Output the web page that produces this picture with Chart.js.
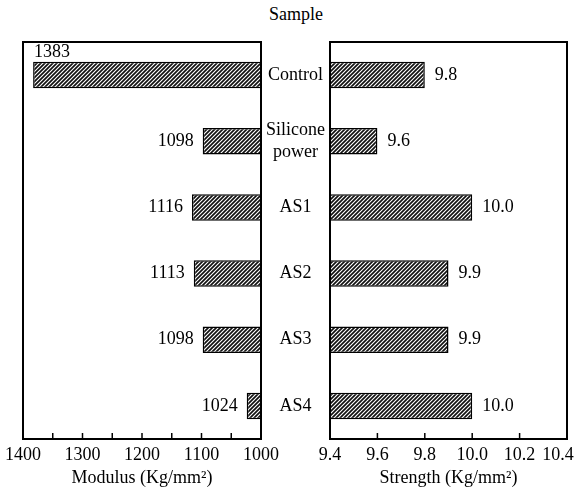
<!DOCTYPE html>
<html>
<head>
<meta charset="utf-8">
<script src="https://cdn.jsdelivr.net/npm/chart.js@4.4.1/dist/chart.umd.min.js"></script>
<style>
html, body { margin: 0; padding: 0; background: #fff; }
#wrap { position: relative; width: 576px; height: 492px; overflow: hidden; }
#left { position: absolute; left: 0; top: 0; }
#right { position: absolute; left: 262px; top: 0; }
#title { position: absolute; left: 246px; width: 100px; top: 4px; text-align: center;
  font: 18px "Liberation Serif"; color: #000; white-space: nowrap; }
</style>
</head>
<body>
<div id="wrap">
  <div id="title">Sample</div>
  <canvas id="left" width="292" height="492"></canvas>
  <canvas id="right" width="314" height="492"></canvas>
</div>
<script>
// data
const samples = ['Control', ['Silicone', 'power'], 'AS1', 'AS2', 'AS3', 'AS4'];
const modulus = [1383, 1098, 1116, 1113, 1098, 1024];
const strength = [9.8, 9.6, 10.0, 9.9, 9.9, 10.0];

const serif = { family: '"Liberation Serif", "DejaVu Serif", serif', size: 18 };
const ink = '#000';

function hatch() {
  const c = document.createElement('canvas');
  c.width = 4; c.height = 4;
  const g = c.getContext('2d');
  g.fillStyle = '#fff';
  g.fillRect(0, 0, 4, 4);
  g.strokeStyle = '#111';
  g.lineWidth = 1.7;
  g.beginPath();
  g.moveTo(0, 4); g.lineTo(4, 0);
  g.moveTo(-1, 1); g.lineTo(1, -1);
  g.moveTo(3, 5); g.lineTo(5, 3);
  g.stroke();
  return g.createPattern(c, 'repeat');
}

// box round the plot and short inward ticks
const frame = {
  id: 'frame',
  afterDraw(chart) {
    const { ctx, chartArea: a } = chart;
    const sx = chart.scales.x;
    ctx.save();
    ctx.strokeStyle = ink;
    ctx.lineWidth = 2;
    ctx.strokeRect(a.left, a.top, a.right - a.left, a.bottom - a.top);
    ctx.lineWidth = 1.5;
    sx.ticks.forEach(t => {
      const p = sx.getPixelForValue(t.value);
      if (p <= a.left + 2 || p >= a.right - 2) return;
      ctx.beginPath();
      ctx.moveTo(p, a.bottom);
      ctx.lineTo(p, a.bottom - 6);
      ctx.stroke();
    });
    ctx.restore();
  }
};

const valueLabels = {
  id: 'valueLabels',
  afterDatasetsDraw(chart, args, opts) {
    const ctx = chart.ctx;
    const vals = chart.data.datasets[0].data;
    ctx.save();
    ctx.font = '18px "Liberation Serif"';
    ctx.fillStyle = ink;
    ctx.textBaseline = 'middle';
    chart.getDatasetMeta(0).data.forEach((bar, i) => {
      const txt = opts.fmt(vals[i]);
      if (opts.side === 'left') {
        if (i === opts.above) {
          ctx.textAlign = 'left';
          ctx.fillText(txt, bar.x + 1, bar.y - bar.height / 2 - 10);
        } else {
          ctx.textAlign = 'right';
          ctx.fillText(txt, bar.x - 9, bar.y);
        }
      } else {
        ctx.textAlign = 'left';
        ctx.fillText(txt, bar.x + 10, bar.y);
      }
    });
    ctx.restore();
  }
};

Chart.defaults.font = serif;
Chart.defaults.color = ink;

const barStyle = {
  backgroundColor: hatch(),
  borderColor: ink,
  borderWidth: 1.5,
  borderSkipped: false,
  categoryPercentage: 1,
  barPercentage: 0.4
};

new Chart(document.getElementById('left'), {
  type: 'bar',
  data: { labels: samples, datasets: [Object.assign({ data: modulus }, barStyle)] },
  options: {
    indexAxis: 'y',
    responsive: false,
    animation: false,
    layout: { padding: { left: 23, right: 31, top: 42, bottom: 0 } },
    plugins: {
      legend: { display: false },
      tooltip: { enabled: false },
      valueLabels: { side: 'left', above: 0, fmt: v => String(v) }
    },
    scales: {
      x: {
        min: 1000, max: 1400, reverse: true,
        ticks: { stepSize: 50, autoSkip: false, maxRotation: 0, padding: 5,
          callback: v => (v % 100 === 0 ? v : '') },
        grid: { display: false, drawTicks: false },
        border: { display: false },
        title: { display: true, text: 'Modulus (Kg/mm²)', padding: { top: 0, bottom: 3 } },
        afterFit(s) { s.height = 53; s.paddingLeft = 0; s.paddingRight = 0; }
      },
      y: { display: false }
    }
  },
  plugins: [frame, valueLabels]
});

new Chart(document.getElementById('right'), {
  type: 'bar',
  data: { labels: samples, datasets: [Object.assign({ data: strength }, barStyle)] },
  options: {
    indexAxis: 'y',
    responsive: false,
    animation: false,
    layout: { padding: { left: 0, right: 9, top: 42, bottom: 0 } },
    plugins: {
      legend: { display: false },
      tooltip: { enabled: false },
      valueLabels: { side: 'right', fmt: v => v.toFixed(1) }
    },
    scales: {
      x: {
        min: 9.4, max: 10.4,
        ticks: { stepSize: 0.2, autoSkip: false, maxRotation: 0, padding: 5,
          // last label pushed a little left so it stays inside the window
          callback: (v, i, arr) => (i === arr.length - 1 ? v.toFixed(1) + '    ' : v.toFixed(1)) },
        grid: { display: false, drawTicks: false },
        border: { display: false },
        title: { display: true, text: 'Strength (Kg/mm²)', padding: { top: 0, bottom: 3 } },
        afterFit(s) { s.height = 53; s.paddingLeft = 0; s.paddingRight = 0; }
      },
      y: {
        position: 'left',
        ticks: { crossAlign: 'center', padding: 5 },
        grid: { display: false, drawTicks: false },
        border: { display: false },
        afterFit(s) { s.width = 68; }
      }
    }
  },
  plugins: [frame, valueLabels]
});
</script>
</body>
</html>
